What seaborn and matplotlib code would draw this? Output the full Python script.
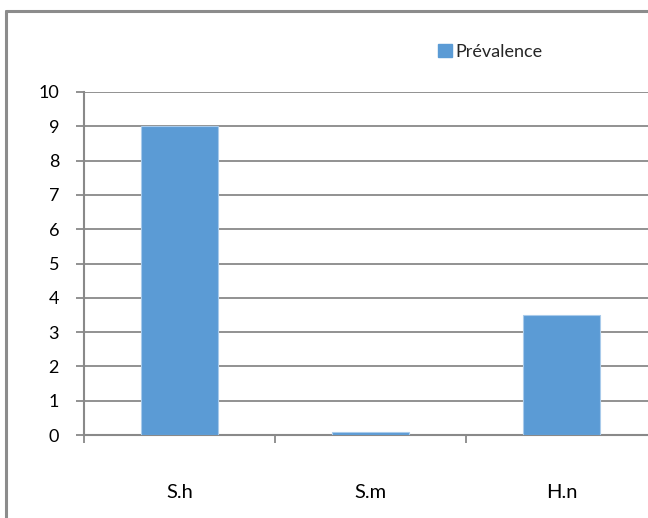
import matplotlib
matplotlib.use("Agg")
import matplotlib.pyplot as plt
from matplotlib.patches import Rectangle
from matplotlib.lines import Line2D
import seaborn as sns
import pandas as pd

categories = ["S.h", "S.m", "H.n"]
prevalence = [9, 0.1, 3.5]
series_name = "Prévalence"
y_ticks = list(range(0, 11))

sns.set_theme(style="white")
plt.rcParams["font.family"] = ["Lato", "DejaVu Sans"]

df = pd.DataFrame({"espece": categories, "valeur": prevalence})

W, H = 648, 518
left_px, right_px, top_px, bottom_px = 84, 648, 92, 435
cat_px = 191  # width of one category slot
fig = plt.figure(figsize=(W / 100, H / 100), dpi=100)
ax = fig.add_axes([left_px / W, 1 - bottom_px / H,
                   (right_px - left_px) / W, (bottom_px - top_px) / H])

grid_col = "#898989"
bar_col = "#5B9BD5"

sns.barplot(data=df, x="espece", y="valeur", color=bar_col, width=0.4,
            saturation=1, edgecolor="#A9CBEB", linewidth=0.8,
            ax=ax, zorder=3)

# the plot area runs past the right edge of the image
ax.set_xlim(-0.5, -0.5 + (right_px - left_px) / cat_px)
ax.set_ylim(0, 10)
ax.set_yticks(y_ticks)
ax.yaxis.grid(True, color=grid_col, linewidth=1.3)
ax.set_axisbelow(True)
ax.set_xlabel("")
ax.set_ylabel("")

for s in ["top", "right"]:
    ax.spines[s].set_visible(False)
for s in ["left", "bottom"]:
    ax.spines[s].set_color(grid_col)
    ax.spines[s].set_linewidth(1.5)

ax.tick_params(axis="y", which="major", length=6, width=1.3, color=grid_col,
               labelsize=13, pad=12, left=True, labelcolor="#000000")
ax.tick_params(axis="x", which="major", length=0, labelsize=14.5, pad=35,
               labelcolor="#000000")
ax.set_xticks([-0.5, 0.5, 1.5], minor=True)
ax.tick_params(axis="x", which="minor", length=6, width=1.3, color=grid_col,
               bottom=True)

fig.legend(handles=[Rectangle((0, 0), 1, 1, color=bar_col)],
           labels=[series_name], loc="center left",
           bbox_to_anchor=(438 / W, 1 - 52 / H), frameon=False,
           fontsize=13, handlelength=0.75, handleheight=0.75,
           handletextpad=0.2, borderaxespad=0, borderpad=0)

# chart area frame (left and top edges fall inside the image)
frame_kw = dict(color="#8C8C8C", linewidth=2.2, transform=fig.transFigure)
fig.add_artist(Line2D([5.5 / W, 5.5 / W], [0, 1 - 10.5 / H], **frame_kw))
fig.add_artist(Line2D([5.5 / W, 1], [1 - 10.5 / H, 1 - 10.5 / H], **frame_kw))

fig.savefig("out.png", dpi=100)
